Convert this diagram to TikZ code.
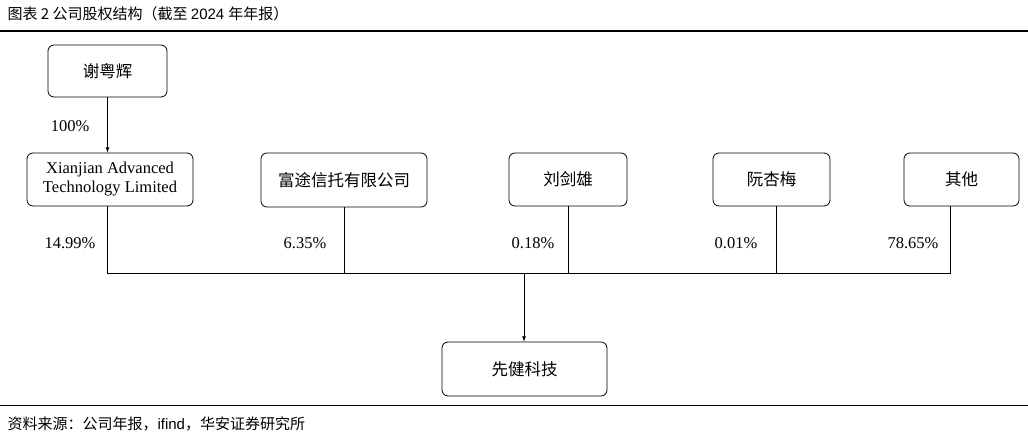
\documentclass[tikz,border=0pt]{standalone}
\usepackage{fontspec}
\setmainfont{Liberation Serif}
\newfontfamily\cjk{Noto Sans CJK SC}
\newfontfamily\hei{Liberation Sans}
\begin{document}
\begin{tikzpicture}[x=1pt,y=-1pt,
  box/.style={draw,rounded corners=6pt,line width=0.8pt,align=center,font=\fontsize{16.5}{19}\selectfont},
  pct/.style={font=\fontsize{16.5}{19}\selectfont},
  ln/.style={line width=0.8pt},
  arr/.style={ln,-latex}]
\useasboundingbox (0,0) rectangle (1028,441);
\node[anchor=west,font=\fontsize{15}{17}\selectfont] (title) at (4,14) {\cjk 图表 2 公司股权结构（截至 \hei 2024 \cjk 年年报）};
\draw[line width=1.5pt] (0,31) -- (1028,31);
\node[box,minimum width=119pt,minimum height=52pt] (x) at (107.5,71) {\cjk 谢粤辉};
\node[box,minimum width=166pt,minimum height=53pt,inner sep=2pt] (a) at (110,179.5) {Xianjian Advanced\\Technology Limited};
\node[box,minimum width=166pt,minimum height=54pt] (b) at (344,180) {\cjk 富途信托有限公司};
\node[box,minimum width=118pt,minimum height=53pt] (c) at (568,179.5) {\cjk 刘剑雄};
\node[box,minimum width=117pt,minimum height=53pt] (d) at (771.5,179.5) {\cjk 阮杏梅};
\node[box,minimum width=115pt,minimum height=53pt] (e) at (961.5,179.5) {\cjk 其他};
\node[box,minimum width=165pt,minimum height=54pt] (f) at (524.5,369) {\cjk 先健科技};
\draw[arr] (x.south) -- (x.south |- a.north);
\node[pct] (p0) at (70,126) {100\%};
\coordinate (h1) at (107,273);
\coordinate (h5) at (950,273);
\coordinate (hm) at (524,273);
\draw[ln] (a.south -| h1) -- (h1) -- (h5) -- (e.south -| h5);
\draw[ln] (b.south) -- (b.south |- h1);
\draw[ln] (c.south) -- (c.south |- h1);
\draw[ln] (d.south -| 776,0) -- (776,273);
\draw[arr] (hm) -- (hm |- f.north);
\node[pct] (p1) at (70,243) {14.99\%};
\node[pct] (p2) at (305,243) {6.35\%};
\node[pct] (p3) at (533,243) {0.18\%};
\node[pct] (p4) at (736,243) {0.01\%};
\node[pct] (p5) at (913,243) {78.65\%};
\draw[line width=1pt] (0,405) -- (1028,405);
\node[anchor=west,font=\fontsize{15}{17}\selectfont] (src) at (4,424) {\cjk 资料来源：公司年报，\hei ifind\cjk ，华安证券研究所};
\end{tikzpicture}
\end{document}
